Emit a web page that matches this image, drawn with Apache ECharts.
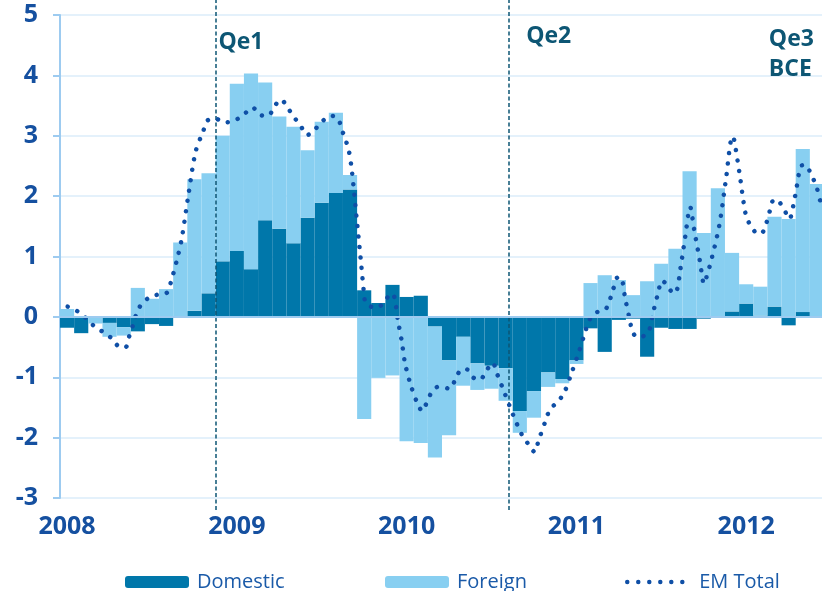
<!DOCTYPE html>
<html>
<head>
<meta charset="UTF-8">
<title>EM flows</title>
<script src="https://cdn.jsdelivr.net/npm/echarts@6/dist/echarts.min.js"></script>
</head>
<body style="margin: 0">
<div id="main" style="width: 822px; height: 591px"></div>
<script>
  // monthly categories, Jan 2008 .. Jun 2012
  const years = ['2008', '2009', '2010', '2011', '2012'];
  const monthCount = 54;
  const months = [];
  years.forEach(y => {
    for (let m = 1; m <= 12; m++) {
      if (months.length < monthCount) months.push(y + '-' + String(m).padStart(2, '0'));
    }
  });

  const domestic = [
    -0.18, -0.27, -0.01, -0.10, -0.17, -0.24, -0.12, -0.15, 0, 0.10, 0.39, 0.92,
    1.09, 0.79, 1.60, 1.46, 1.22, 1.64, 1.89, 2.05, 2.11, 0.44, 0.23, 0.53,
    0.33, 0.35, -0.16, -0.72, -0.33, -0.77, -0.81, -0.85, -1.56, -1.23, -0.92, -1.03,
    -0.72, -0.19, -0.58, -0.05, -0.03, -0.66, -0.18, -0.20, -0.20, -0.03, 0, 0.09,
    0.22, 0.02, 0.17, -0.14, 0.08, 0
  ];
  const foreign = [
    0.13, 0, -0.10, -0.23, -0.14, 0.48, 0.30, 0.46, 1.23, 2.18, 1.99, 2.08,
    2.77, 3.24, 2.28, 1.86, 1.93, 1.12, 1.34, 1.33, 0.24, -1.69, -1.01, -0.97,
    -2.06, -2.09, -2.17, -1.24, -0.81, -0.44, -0.38, -0.54, -0.36, -0.44, -0.24, -0.07,
    -0.06, 0.56, 0.69, 0.61, 0.36, 0.59, 0.88, 1.13, 2.41, 1.39, 2.13, 0.97,
    0.32, 0.48, 1.49, 1.62, 2.70, 2.20
  ];
  // EM total: [position in months from Jan 2008, value]
  const emTotal = [
    [0.54, 0.17], [1.25, 0.09], [1.84, -0.02], [2.40, -0.15], [3.04, -0.25], [3.68, -0.36],
    [4.24, -0.50], [4.64, -0.50], [4.88, -0.33], [5.14, -0.15], [5.37, 0.03], [5.70, 0.19],
    [6.29, 0.32], [6.93, 0.37], [7.56, 0.40], [7.83, 0.57], [8.25, 0.93], [8.60, 1.29],
    [9.07, 2.01], [9.59, 2.74], [10.13, 3.08], [10.41, 3.25], [10.91, 3.29], [11.66, 3.22],
    [12.39, 3.26], [13.03, 3.36], [13.59, 3.47], [14.21, 3.34], [14.72, 3.33], [15.16, 3.49],
    [15.62, 3.60], [16.10, 3.46], [16.54, 3.31], [17.02, 3.16], [17.46, 3.01], [18.00, 3.10],
    [18.54, 3.24], [19.21, 3.33], [19.65, 3.29], [19.89, 3.12], [20.17, 2.94], [20.41, 2.76],
    [20.64, 2.40], [20.95, 1.67], [21.26, 0.94], [21.49, 0.39], [21.63, 0.22], [22.34, 0.15],
    [22.93, 0.24], [23.38, 0.39], [23.63, 0.33], [23.87, -0.04], [24.16, -0.41], [24.39, -0.77],
    [24.79, -1.13], [25.33, -1.47], [25.61, -1.56], [25.97, -1.39], [26.32, -1.23], [26.81, -1.15],
    [27.55, -1.19], [27.94, -1.04], [28.33, -0.88], [28.75, -0.87], [29.24, -1.01], [29.69, -1.04],
    [30.14, -0.89], [30.59, -0.76], [30.87, -0.93], [31.44, -1.27], [32.02, -1.62], [32.64, -1.95],
    [33.08, -2.10], [33.56, -2.24], [33.81, -2.06], [34.32, -1.72], [34.62, -1.54], [35.15, -1.41],
    [35.61, -1.27], [36.17, -0.92], [36.69, -0.57], [37.16, -0.22], [37.42, -0.05], [37.89, 0.07],
    [38.58, 0.13], [39.13, 0.48], [39.40, 0.65], [39.64, 0.65], [39.96, 0.29], [40.29, -0.07],
    [40.45, -0.24], [40.81, -0.34], [41.55, -0.27], [41.93, 0.08], [42.32, 0.44], [42.52, 0.60],
    [42.89, 0.54], [43.35, 0.39], [43.59, 0.43], [43.85, 0.79], [44.20, 1.34], [44.54, 1.82],
    [44.82, 1.45], [45.24, 0.91], [45.52, 0.55], [45.66, 0.63], [46.09, 0.99], [46.61, 1.53],
    [47.06, 2.26], [47.53, 2.99], [47.65, 2.93], [48.02, 2.39], [48.49, 1.67], [48.83, 1.51],
    [49.34, 1.37], [49.72, 1.42], [50.19, 1.77], [50.45, 1.94], [50.78, 1.92], [51.20, 1.77],
    [51.55, 1.62], [51.94, 1.98], [52.45, 2.51], [52.74, 2.51], [53.09, 2.35], [53.44, 2.18],
    [53.82, 1.83]
  ];

  // QE markers: month position of the dashed lines, and the text notes
  const qeLines = [11, 31.7];
  const noteText = ['Qe1', 'Qe2', 'Qe3\nBCE'];
  const noteX = [11.2, 32.95, 50.1];
  const noteY = [4.55, 4.64, 4.34];

  const blueText = '#1550a0';
  const teal = '#0d5674';
  const dotBlue = '#0f4fa6';
  const font = 'Open Sans';

  const isJan = idx => idx % 12 === 0;

  const option = {
    animation: false,
    textStyle: { fontFamily: font },
    grid: [
      { left: 60, right: -2, top: 15, bottom: 93, outerBoundsMode: 'none' },
      { left: 60, right: -2, top: 0, bottom: 81, outerBoundsMode: 'none' }
    ],
    legend: [
      { data: ['Domestic'], left: 120 },
      { data: ['Foreign'], left: 380 },
      {
        data: [{ name: 'EM Total', itemStyle: { opacity: 0 } }], left: 620,
        lineStyle: { width: 4.5, type: [0.01, 11], cap: 'round', color: dotBlue }
      }
    ].map(l => Object.assign(l, {
      top: 567,
      itemWidth: 64,
      itemHeight: 12,
      textStyle: { fontSize: 20, color: '#1a5aa8', fontFamily: font, padding: [0, 0, 0, 3] }
    })),
    xAxis: [
      {
        type: 'category', data: months, gridIndex: 0, z: 10, position: 'bottom',
        axisLine: { onZero: true, lineStyle: { color: '#9dcbf0', width: 2 } },
        axisTick: { interval: isJan, length: 7, lineStyle: { color: '#9dcbf0', width: 2 } },
        axisLabel: { show: false }
      },
      {
        type: 'category', data: months, gridIndex: 0, position: 'bottom',
        axisLine: { show: false, onZero: false },
        axisTick: { show: false },
        axisLabel: {
          interval: isJan, margin: 16,
          formatter: v => v.slice(0, 4),
          fontSize: 25, fontWeight: 'bold', color: blueText, fontFamily: font
        }
      },
      { type: 'value', gridIndex: 0, min: 0, max: monthCount, show: false },
      { type: 'value', gridIndex: 1, min: 0, max: monthCount, show: false }
    ],
    yAxis: [
      {
        type: 'value', gridIndex: 0, min: -3, max: 5, interval: 1,
        axisLine: { show: true, onZero: false, lineStyle: { color: '#9dcbf0', width: 2 } },
        axisTick: { show: true, length: 7, lineStyle: { color: '#9dcbf0', width: 2 } },
        splitLine: { lineStyle: { color: '#e4f1fb', width: 2 } },
        axisLabel: { margin: 22, fontSize: 25, fontWeight: 'bold', color: blueText, fontFamily: font }
      },
      { type: 'value', gridIndex: 1, min: 0, max: 1, show: false }
    ],
    series: [
      {
        name: 'Domestic', type: 'bar', stack: 'flows',
        xAxisIndex: 0, yAxisIndex: 0,
        barCategoryGap: '0%',
        itemStyle: { color: '#0077aa' },
        data: domestic
      },
      {
        name: 'Foreign', type: 'bar', stack: 'flows',
        xAxisIndex: 0, yAxisIndex: 0,
        barCategoryGap: '0%',
        itemStyle: { color: '#88cff1' },
        data: foreign
      },
      {
        name: 'EM Total', type: 'line',
        xAxisIndex: 2, yAxisIndex: 0,
        smooth: 0.3, symbol: 'none', clip: false, z: 5,
        lineStyle: { color: dotBlue, width: 4.5, type: [0.01, 10.5], cap: 'round' },
        itemStyle: { color: dotBlue },
        data: emTotal,
        markPoint: {
          symbol: 'circle', symbolSize: 0, silent: true,
          label: {
            show: true, position: [0, 0], align: 'left', verticalAlign: 'middle',
            formatter: '{b}', fontSize: 23, fontWeight: 'bold', color: teal,
            lineHeight: 30, fontFamily: font
          },
          data: noteText.map((t, i) => ({ name: t, coord: [noteX[i], noteY[i]] }))
        }
      },
      {
        type: 'line', xAxisIndex: 3, yAxisIndex: 1, data: [],
        markLine: {
          symbol: 'none', silent: true,
          label: { show: false },
          lineStyle: { color: teal, width: 1.5, type: [4, 2.5] },
          data: qeLines.map(x => [{ coord: [x, 0] }, { coord: [x, 1] }])
        }
      }
    ]
  };

  const chart = echarts.init(document.getElementById('main'));
  chart.setOption(option);
</script>
</body>
</html>
